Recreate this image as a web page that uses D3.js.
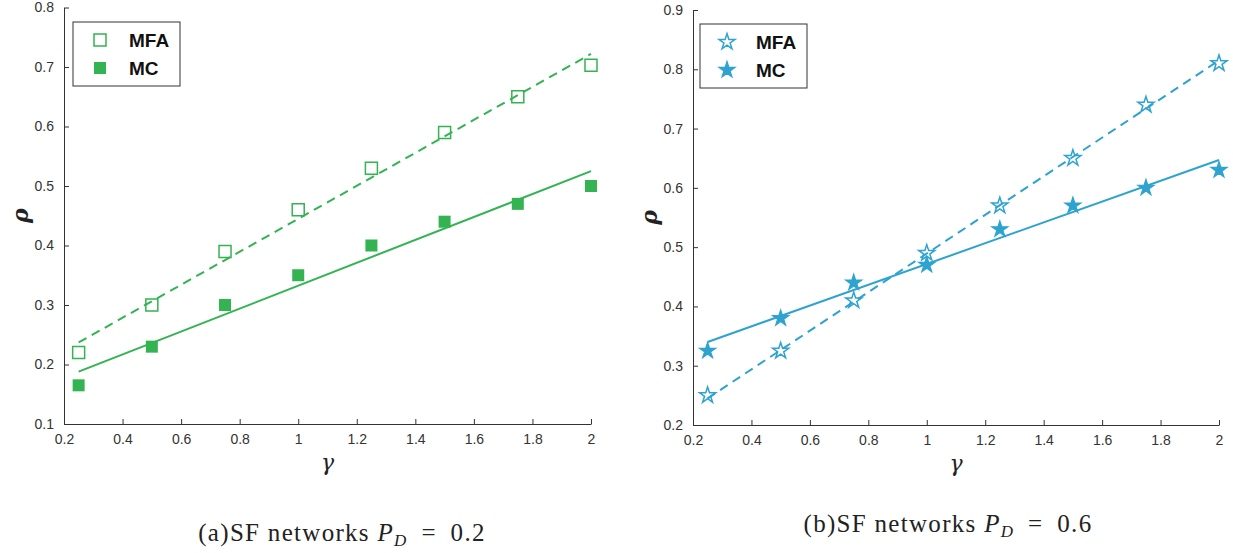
<!DOCTYPE html>
<html>
<head>
<meta charset="utf-8">
<script src="https://cdn.jsdelivr.net/npm/d3@7"></script>
<style>
  body { margin: 0; background: #fff; }
  svg { display: block; }
  .tick text { font-family: "Liberation Sans", Arial, sans-serif; font-size: 14px; fill: #333; }
  .domain, .tick line { stroke: #333; }
</style>
</head>
<body>
<div id="chart"></div>
<script>
// gamma values on the x axis
const gammaValues = [0.25, 0.5, 0.75, 1, 1.25, 1.5, 1.75, 2];

// (a) SF networks, P_D = 0.2
const mfaA = [0.22, 0.30, 0.39, 0.46, 0.53, 0.59, 0.65, 0.703];
const mcA = [0.165, 0.23, 0.30, 0.35, 0.40, 0.44, 0.47, 0.50];
const mfaFitA = [0.237, 0.722];   // fit line at gamma = 0.25 and 2
const mcFitA = [0.188, 0.525];

// (b) SF networks, P_D = 0.6
const mfaB = [0.25, 0.325, 0.41, 0.49, 0.57, 0.65, 0.74, 0.81];
const mcB = [0.325, 0.38, 0.44, 0.47, 0.53, 0.57, 0.60, 0.63];
const mfaFitB = [0.245, 0.815];
const mcFitB = [0.34, 0.647];

const xTicks = [0.2, 0.4, 0.6, 0.8, 1, 1.2, 1.4, 1.6, 1.8, 2];
const yTicksA = [0.1, 0.2, 0.3, 0.4, 0.5, 0.6, 0.7, 0.8];
const yTicksB = [0.2, 0.3, 0.4, 0.5, 0.6, 0.7, 0.8, 0.9];

const svg = d3.select("#chart").append("svg")
  .attr("width", 1233)
  .attr("height", 553);

function drawPanel(cfg) {
  const x = d3.scaleLinear().domain([0.2, 2]).range([cfg.left, cfg.right]);
  const y = d3.scaleLinear().domain(cfg.yDomain).range([cfg.bottom, cfg.top]);
  const g = svg.append("g");

  // axes, MATLAB style ticks pointing inward
  g.append("g")
    .attr("transform", "translate(0," + cfg.bottom + ")")
    .call(d3.axisBottom(x).tickValues(xTicks).tickSize(-5).tickSizeOuter(0).tickPadding(10)
      .tickFormat(d3.format("~g")));
  g.append("g")
    .attr("transform", "translate(" + cfg.left + ",0)")
    .call(d3.axisLeft(y).tickValues(cfg.yTicks).tickSize(-5).tickSizeOuter(0).tickPadding(10)
      .tickFormat(d3.format(".1f")));

  // fitted lines
  const fit = (vals, dashed) => g.append("line")
    .attr("x1", x(gammaValues[0])).attr("y1", y(vals[0]))
    .attr("x2", x(gammaValues[gammaValues.length - 1])).attr("y2", y(vals[1]))
    .attr("stroke", cfg.color)
    .attr("stroke-width", 2)
    .attr("stroke-dasharray", dashed ? "9,6" : null);
  fit(cfg.mfaFit, true);
  fit(cfg.mcFit, false);

  const sym = d3.symbol().type(cfg.symbol).size(cfg.symSize);

  // MC markers (filled)
  g.selectAll(".mc").data(cfg.mc).join("path")
    .attr("class", "mc")
    .attr("d", sym)
    .attr("transform", (d, i) => "translate(" + x(gammaValues[i]) + "," + y(d) + ")")
    .attr("fill", cfg.color)
    .attr("stroke", cfg.color)
    .attr("stroke-width", cfg.filledStroke);

  // MFA markers (open)
  g.selectAll(".mfa").data(cfg.mfa).join("path")
    .attr("class", "mfa")
    .attr("d", sym)
    .attr("transform", (d, i) => "translate(" + x(gammaValues[i]) + "," + y(d) + ")")
    .attr("fill", "none")
    .attr("stroke", cfg.color)
    .attr("stroke-width", 1.5);

  // axis labels
  g.append("text")
    .attr("transform", "translate(" + (cfg.left - 36) + "," + ((cfg.top + cfg.bottom) / 2) + ") rotate(-90)")
    .attr("text-anchor", "middle")
    .attr("font-family", "DejaVu Serif, serif")
    .attr("font-style", "italic")
    .attr("font-weight", "bold")
    .attr("font-size", 22)
    .attr("fill", "#222")
    .text("ρ");
  g.append("text")
    .attr("x", (cfg.left + cfg.right) / 2)
    .attr("y", cfg.bottom + 46)
    .attr("text-anchor", "middle")
    .attr("font-family", "DejaVu Serif, serif")
    .attr("font-style", "italic")
    .attr("font-size", 22)
    .attr("fill", "#222")
    .text("γ");

  // legend
  const lg = g.append("g").attr("transform", "translate(" + cfg.legend[0] + "," + cfg.legend[1] + ")");
  lg.append("rect")
    .attr("width", cfg.legendW).attr("height", 64)
    .attr("fill", "#fff").attr("stroke", "#333").attr("stroke-width", 1);
  const items = [["MFA", false], ["MC", true]];
  items.forEach((it, i) => {
    const cy = 18 + i * 28;
    lg.append("path")
      .attr("d", sym)
      .attr("transform", "translate(" + cfg.legendMarkX + "," + cy + ")")
      .attr("fill", it[1] ? cfg.color : "none")
      .attr("stroke", cfg.color)
      .attr("stroke-width", it[1] ? cfg.filledStroke : 1.5);
    lg.append("text")
      .attr("x", cfg.legendMarkX + 29)
      .attr("y", cy + 7)
      .attr("font-family", "Liberation Sans, Arial, sans-serif")
      .attr("font-weight", "bold")
      .attr("font-size", 19)
      .attr("fill", "#111")
      .text(it[0]);
  });

  // caption
  const cap = svg.append("text")
    .attr("x", cfg.capX)
    .attr("y", cfg.capY)
    .attr("text-anchor", "middle")
    .attr("font-family", "Liberation Serif, serif")
    .attr("font-size", 25)
    .attr("letter-spacing", 1.3)
    .attr("fill", "#222");
  cap.append("tspan").text(cfg.capLabel + "SF networks ");
  cap.append("tspan").attr("font-style", "italic").text("P");
  cap.append("tspan").attr("font-style", "italic").attr("font-size", 17).attr("dy", 5).text("D");
  cap.append("tspan").attr("dy", -5).text("\u2002=\u20020" + cfg.capValue.slice(1));
}

drawPanel({
  left: 64, right: 591, top: 7.5, bottom: 424,
  yDomain: [0.1, 0.8], yTicks: yTicksA,
  color: "#33b352", symbol: d3.symbolSquare, symSize: 144, filledStroke: 0,
  mfa: mfaA, mc: mcA, mfaFit: mfaFitA, mcFit: mcFitA,
  legend: [73, 22], legendW: 107, legendMarkX: 27,
  capX: 342, capY: 541, capLabel: "(a)", capValue: "0.2"
});

drawPanel({
  left: 693, right: 1219, top: 10, bottom: 425,
  yDomain: [0.2, 0.9], yTicks: yTicksB,
  color: "#2ea3cf", symbol: d3.symbolStar, symSize: 80, filledStroke: 1.2,
  mfa: mfaB, mc: mcB, mfaFit: mfaFitB, mcFit: mcFitB,
  legend: [700, 24], legendW: 107, legendMarkX: 27,
  capX: 948, capY: 532, capLabel: "(b)", capValue: "0.6"
});
</script>
</body>
</html>
